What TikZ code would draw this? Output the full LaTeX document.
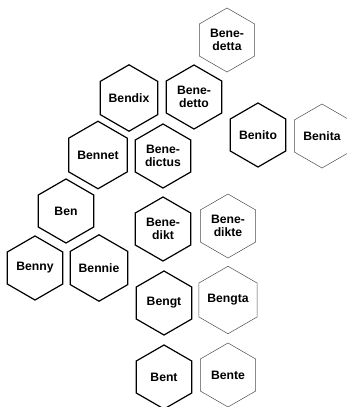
\documentclass[tikz,border=0pt]{standalone}
\usepackage{fontspec}
\setmainfont{Liberation Sans}
\usetikzlibrary{shapes.geometric}
\tikzset{
  % name hexagons
  namehex/.style={
    regular polygon, regular polygon sides=6, shape border rotate=30,
    minimum size=64pt, inner sep=0pt, align=center,
    font=\fontsize{12.2}{13.5}\selectfont\bfseries
  },
  malehex/.style={namehex, draw=black, line width=1.2pt},
  femalehex/.style={namehex, draw=black!70, line width=0.5pt},
}
\begin{document}
\begin{tikzpicture}[x=1pt, y=-1pt]
  \useasboundingbox (0,0) rectangle (347,407);
  % top cluster
  \node[femalehex] (benedetta) at (227,40) {Bene-\\detta};
  \node[malehex] (bendix) at (129,98) {Bendix};
  \node[malehex] (benedetto) at (194,97) {Bene-\\detto};
  \node[malehex] (benito) at (258,135) {Benito};
  \node[femalehex] (benita) at (322,136) {Benita};
  \node[malehex] (bennet) at (98,155) {Bennet};
  \node[malehex] (benedictus) at (163,156) {Bene-\\dictus};
  % left cluster
  \node[malehex] (ben) at (66,211) {Ben};
  \node[malehex] (benny) at (35,268) {Benny};
  \node[malehex] (bennie) at (99,268) {Bennie};
  % right columns
  \node[malehex] (benedikt) at (163,229) {Bene-\\dikt};
  \node[femalehex] (benedikte) at (228,226) {Bene-\\dikte};
  \node[malehex] (bengt) at (164,303) {Bengt};
  \node[femalehex] (bengta) at (228,300) {Bengta};
  \node[malehex] (bent) at (164,377) {Bent};
  \node[femalehex] (bente) at (228,375) {Bente};
\end{tikzpicture}
\end{document}
